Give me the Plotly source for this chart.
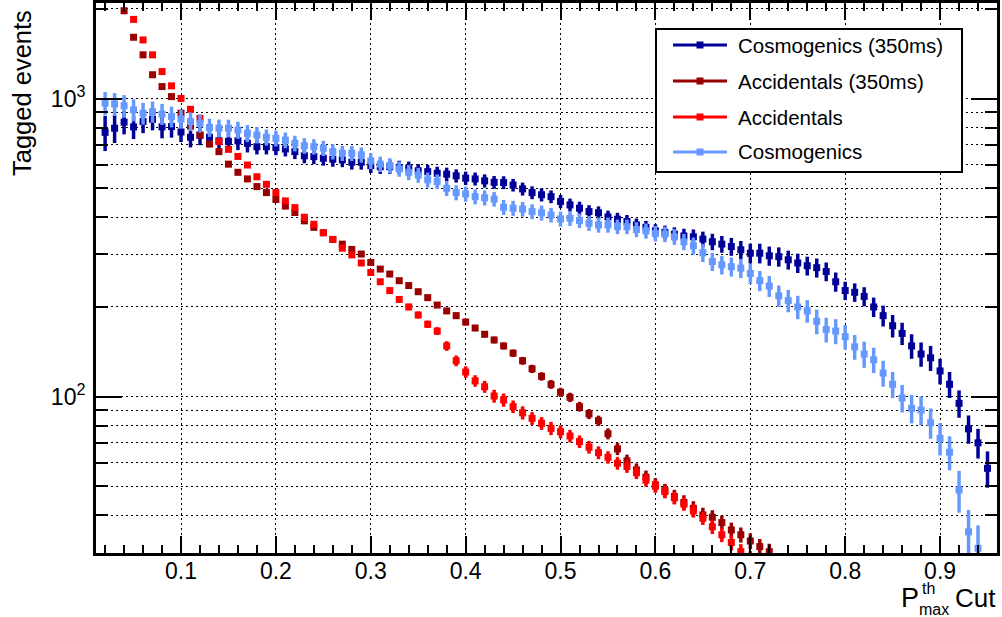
import plotly.graph_objects as go

# ---------------- data ----------------
def bins(start, n):
    return [round(start + 0.01 * i, 2) for i in range(n)]

cosmo350_vals = [771, 796, 834, 804, 838, 853, 804, 806, 773, 742, 754, 742, 722, 719, 722, 708,
                 690, 690, 685, 678, 664, 643, 639, 631, 626, 623, 612, 612,
                 596, 591, 591, 588, 584, 573, 569, 562, 558, 551,
                 541, 538, 530, 524, 523, 513, 498, 484, 476, 469,
                 452, 440, 429, 418, 414, 401, 394, 387, 377, 370,
                 360, 356, 351, 346, 344, 338, 331, 325, 319, 311,
                 303, 303, 297, 295, 288, 281, 275, 271, 263, 243,
                 227, 224, 217, 200, 187, 173, 163, 148, 139, 135,
                 122, 110, 95, 78, 70, 57.5]
cosmo350_err = [104, 86, 75, 72, 72, 70, 68, 66, 58, 56, 56, 54, 52, 52, 50, 48,
                40, 40, 39, 38, 37, 36, 36, 35, 35, 34, 34, 34,
                33, 32, 32, 31, 31, 30, 30, 29, 29, 28,
                28, 27, 27, 26, 26, 25, 25, 24, 24, 23,
                23, 22, 22, 21, 21, 20, 20, 20, 19, 19,
                19, 19, 19, 20, 20, 20, 21, 21, 22, 22,
                23, 23, 22, 22, 21, 21, 20, 20, 19, 18,
                16, 16, 16, 15, 15, 15, 14, 14, 13, 13,
                12, 11, 10, 8.5, 8, 8]
cosmo350_x = bins(0.02, len(cosmo350_vals))

cosmo_vals = [966, 960, 946, 917, 893, 904, 888, 871, 855, 838, 827, 800, 796, 796, 785, 765,
              755, 742, 736, 726, 708, 695, 690, 682, 664, 656, 656, 648, 618, 603, 596, 581,
              566, 554, 534, 527, 500, 484, 479, 469, 465, 460,
              432, 429, 426, 418, 414, 407, 395, 397, 390, 382, 377, 377, 372, 372, 364, 360,
              353, 351, 344, 331, 321, 304, 284, 277, 273, 270, 259,
              245, 235, 218, 210, 200, 194, 179, 168, 166, 159, 147, 139, 133, 120, 110, 99,
              91.4, 90.2, 81.8, 72.5, 65.1, 48.6, 35.2, 31.0]
cosmo_err = [87, 85, 82, 78, 75, 74, 72, 70, 62, 60, 58, 56, 55, 54, 52, 50,
             48, 46, 45, 44, 43, 42, 41, 40, 39, 38, 38, 38,
             38, 36, 35, 34, 33, 32, 31, 30, 29, 28, 28, 27, 27, 26,
             25, 25, 24, 24, 24, 23, 23, 23, 22, 22, 22, 22, 21, 21,
             21, 21, 21, 21, 21, 21, 21, 21, 20, 20, 20, 20, 20,
             19, 19, 18, 18, 18, 17, 17, 16, 16, 15, 14, 14, 13, 12, 11, 10.5,
             10, 10, 9.5, 9, 8.5, 7.8, 6.5, 6]
cosmo_x = bins(0.02, len(cosmo_vals))

acc350_vals = [1972, 1607, 1403, 1203, 1098, 1016, 894, 809, 755,
               704, 664, 603, 566, 538, 507, 484, 459,
               436, 415, 389, 370, 355, 337, 325, 312, 301, 282, 268, 258, 245, 236, 225,
               215, 203, 194, 187, 178, 170, 162, 155,
               148, 140, 132, 124, 117, 110, 103.5, 99.5,
               92.6, 87.5, 83.1, 75.1, 66.8, 60.9, 56.8, 53.7, 50.6, 48.4, 46.2, 44.2,
               42.2, 40.1, 39.4, 37.8, 35.7, 34.4, 32.8, 31.4, 30.2]
acc350_err = [25, 22, 20, 18, 16, 15, 13, 12, 11,
              10, 10, 9, 9, 8, 8, 8, 7,
              7, 7, 7, 6, 6, 6, 6, 6, 5, 5, 5, 5, 5, 5, 5,
              4.5, 4.5, 4.5, 4.5, 4.5, 4, 4, 4,
              4, 4, 4, 4, 3.8, 3.8, 3.6, 3.6,
              3.5, 3.4, 3.3, 3.2, 3.1, 3, 2.9, 2.8, 2.7, 2.6, 2.5, 2.5,
              2.4, 2.3, 2.2, 2.1, 2.1, 2, 2, 1.9, 1.9]
acc350_x = bins(0.04, len(acc350_vals))

acc_vals = [1845, 1574, 1403, 1233, 1104, 1002, 921, 859,
            800, 718, 676, 640, 599, 547, 516, 484,
            454, 431, 400, 379, 355, 337, 315, 299, 281, 261, 243, 227, 212, 200, 188,
            175, 166, 148, 132, 121, 113, 108, 100.5,
            97.5, 92.6, 88.3, 84.6, 81.4, 78.3, 76.3, 73.8, 70.7, 67.7, 64.9, 62.6, 59.8,
            58.3, 55.6, 52.5, 50.1, 48.0, 45.8, 43.6, 41.4, 39.1, 36.6, 34.4, 32.4, 30.2, 28.5]
acc_err = [22, 20, 18, 16, 15, 14, 13, 12,
           11, 10, 10, 9, 9, 8, 8, 8,
           7, 7, 7, 6, 6, 6, 6, 5, 5, 5, 5, 5, 5, 5, 5,
           5, 5, 5.5, 5.5, 5.5, 5, 5, 5,
           5, 4.5, 4.5, 4.2, 4, 4, 3.8, 3.6, 3.4, 3.3, 3.2, 3, 2.9,
           2.8, 2.7, 2.6, 2.5, 2.4, 2.3, 2.2, 2.1, 2, 2, 1.9, 1.9, 1.8, 1.8]
acc_x = bins(0.05, len(acc_vals))

x_major = [0.1, 0.2, 0.3, 0.4, 0.5, 0.6, 0.7, 0.8, 0.9]
y_major = [100, 1000]
y_major_text = ["10<sup>2</sup>", "10<sup>3</sup>"]
y_minor = [30, 40, 50, 60, 70, 80, 90, 200, 300, 400, 500, 600, 700, 800, 900, 2000]

# ---------------- styling ----------------
C_COSMO350 = "#000099"
C_ACC350 = "#990000"
C_ACC = "#FF0000"
C_COSMO = "#6699FF"
FONT = "Liberation Sans, Arial, Helvetica, sans-serif"

W, H = 1002, 617
L, R, T, B = 96, 5, 3, 64
PW, PH = W - L - R, H - T - B


def px_x(p):
    return (p - L) / PW


def px_y(p):
    return (H - B - p) / PH


series = [
    ("Cosmogenics (350ms)", cosmo350_x, cosmo350_vals, cosmo350_err, C_COSMO350),
    ("Accidentals (350ms)", acc350_x, acc350_vals, acc350_err, C_ACC350),
    ("Accidentals", acc_x, acc_vals, acc_err, C_ACC),
    ("Cosmogenics", cosmo_x, cosmo_vals, cosmo_err, C_COSMO),
]

fig = go.Figure()
for name, xs, ys, es, col in series:
    fig.add_trace(go.Scatter(
        x=xs, y=ys, mode="markers", showlegend=False, name=name, cliponaxis=True,
        marker=dict(symbol="square", size=7, color=col),
        error_y=dict(type="data", array=es, thickness=3.5, width=0, color=col),
    ))

axis_common = dict(
    showline=True, linewidth=3, linecolor="black", mirror="ticks",
    ticks="inside", tickcolor="black", zeroline=False,
    showgrid=True, gridcolor="black", gridwidth=1, griddash="2px,3px",
    tickfont=dict(family=FONT, size=23, color="black"),
)

fig.update_xaxes(
    **axis_common, range=[0.0104, 0.96], tickvals=x_major,
    ticktext=[f"{v:.1f}" for v in x_major], ticklen=17, tickwidth=1.5,
    ticklabelstandoff=-5,
    minor=dict(tickmode="linear", tick0=0, dtick=0.02, ticks="inside",
               ticklen=8, tickwidth=1.5, tickcolor="black", showgrid=False),
)
fig.update_yaxes(
    **axis_common, type="log", range=[1.4755, 3.321], tickvals=y_major,
    ticktext=y_major_text, ticklen=26, tickwidth=1.5, ticklabelstandoff=3,
    minor=dict(tickmode="array", tickvals=y_minor, ticks="inside", ticklen=12,
               tickwidth=1.5, tickcolor="black", showgrid=True, gridcolor="black",
               gridwidth=1, griddash="2px,3px"),
)

# ---------------- legend box (drawn as in the reference) ----------------
shapes = [dict(type="rect", xref="paper", yref="paper", layer="above",
               x0=px_x(656), x1=px_x(962), y0=px_y(172), y1=px_y(29),
               line=dict(color="black", width=2), fillcolor="white")]
annotations = []
legend_rows = [45, 81, 117, 152]
for (name, xs, ys, es, col), yrow in zip(series, legend_rows):
    shapes.append(dict(type="line", xref="paper", yref="paper", layer="above",
                       x0=px_x(673), x1=px_x(727), y0=px_y(yrow), y1=px_y(yrow),
                       line=dict(color=col, width=3)))
    shapes.append(dict(type="rect", xref="paper", yref="paper", layer="above",
                       x0=px_x(696.5), x1=px_x(703.5), y0=px_y(yrow + 3.5), y1=px_y(yrow - 3.5),
                       line=dict(width=0), fillcolor=col))
    annotations.append(dict(text=name, xref="paper", yref="paper", x=px_x(736), y=px_y(yrow),
                            xanchor="left", yanchor="middle", showarrow=False,
                            font=dict(family=FONT, size=20.5, color="black")))

annotations += [
    dict(text="Tagged events", textangle=-90, xref="paper", yref="paper",
         x=px_x(22), y=px_y(8), xanchor="center", yanchor="top", showarrow=False,
         font=dict(family=FONT, size=25.5, color="black")),
    dict(text="P", xref="paper", yref="paper", x=px_x(900), y=px_y(598),
         xanchor="left", yanchor="middle", showarrow=False, borderpad=0,
         font=dict(family=FONT, size=27, color="black")),
    dict(text="th", xref="paper", yref="paper", x=px_x(921), y=px_y(588),
         xanchor="left", yanchor="middle", showarrow=False, borderpad=0,
         font=dict(family=FONT, size=16, color="black")),
    dict(text="max", xref="paper", yref="paper", x=px_x(918), y=px_y(609),
         xanchor="left", yanchor="middle", showarrow=False, borderpad=0,
         font=dict(family=FONT, size=16, color="black")),
    dict(text="Cut", xref="paper", yref="paper", x=px_x(997), y=px_y(598),
         xanchor="right", yanchor="middle", showarrow=False, borderpad=0,
         font=dict(family=FONT, size=26, color="black")),
]

fig.update_layout(
    width=W, height=H, margin=dict(l=L, r=R, t=T, b=B, autoexpand=False),
    paper_bgcolor="white", plot_bgcolor="white",
    font=dict(family=FONT, color="black"),
    showlegend=False, shapes=shapes, annotations=annotations,
)

fig.write_html("out.html", config={"displayModeBar": False},
               post_script="document.body.style.margin='0px';")
